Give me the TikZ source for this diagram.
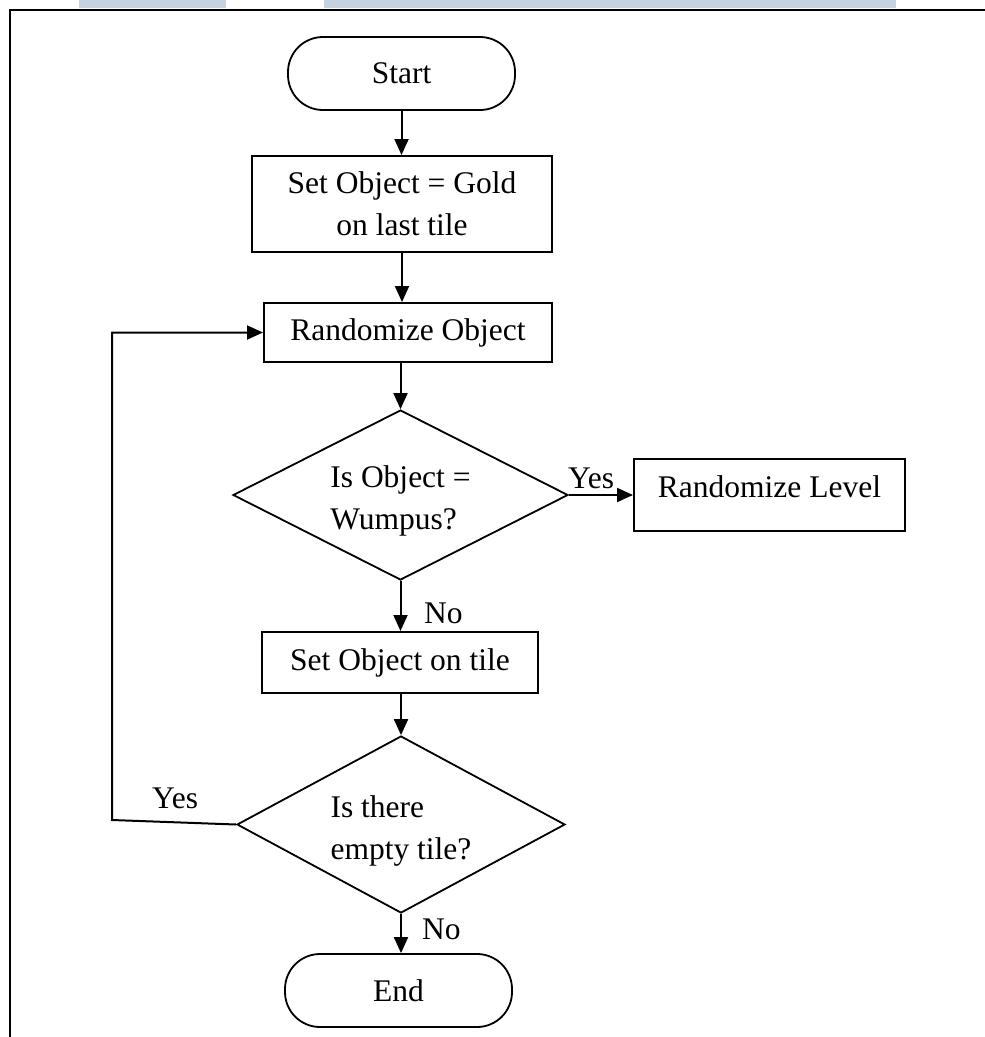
\documentclass[tikz,border=0pt]{standalone}
\usepackage{fontspec}
\setmainfont{Liberation Serif}
\usetikzlibrary{shapes.geometric,arrows.meta}
\definecolor{barblue}{RGB}{197,211,224}
\begin{document}
\begin{tikzpicture}[x=1pt,y=-1pt,
  font=\fontsize{31.5}{42}\selectfont,
  every node/.style={inner sep=0pt},
  procbox/.style={draw,rectangle,line width=2pt},
  term/.style={draw,rectangle,rounded corners=35pt,line width=1.8pt,minimum width=227pt,minimum height=73pt},
  decision/.style={draw,diamond,aspect=1.95,line width=1.8pt,align=left},
  arr/.style={line width=2pt,-{Triangle[length=16pt,width=14pt]}},
  lbl/.style={anchor=base west}
]
\useasboundingbox (0,0) rectangle (985,1037);
\fill[barblue] (79,0) rectangle (226,8);
\fill[barblue] (324,0) rectangle (896,8);
\draw[line width=2.5pt] (10,1037) -- (10,10) -- (985,10);

\node[term] (start) at (401.5,73.5) {Start};
\node[procbox,minimum width=300pt,minimum height=96pt,align=center] (set) at (402,204) {Set Object = Gold\\on last tile};
\node[procbox,minimum width=288pt,minimum height=59pt] (rand) at (408,332.5) {Randomize Object};
\node[decision,minimum width=335pt,minimum height=170pt] (d1) at (400.5,495) {\rule{0pt}{34pt}Is Object =\\Wumpus?};
\node[procbox,minimum width=271pt,minimum height=72pt,text depth=16pt] (rl) at (769.5,495) {Randomize Level};
\node[procbox,minimum width=276pt,minimum height=61pt] (sot) at (400,662.5) {Set Object on tile};
\node[decision,minimum width=328pt,minimum height=177pt] (d2) at (401,824.5) {\rule{0pt}{34pt}Is there\\empty tile?};
\node[term] (end) at (398.5,990.5) {End};

\draw[arr] (start.south) -- (start.south |- set.north);
\draw[arr] (set.south) -- (set.south |- rand.north);
\draw[arr] (d1.north |- rand.south) -- (d1.north);
\draw[arr] (d1.east) -- (rl.west);
\draw[arr] (d1.south) -- (d1.south |- sot.north);
\draw[arr] (d2.north |- sot.south) -- (d2.north);
\draw[arr] (d2.south) -- (d2.south |- end.north);
\coordinate (loop) at (112,820);
\draw[arr] (d2.west) -- (loop) |- (rand.west);

\node[lbl] (yes1) at (568,488) {Yes};
\node[lbl] (no1) at (424,623) {No};
\node[lbl] (yes2) at (152,808) {Yes};
\node[lbl] (no2) at (422,939) {No};
\end{tikzpicture}
\end{document}
